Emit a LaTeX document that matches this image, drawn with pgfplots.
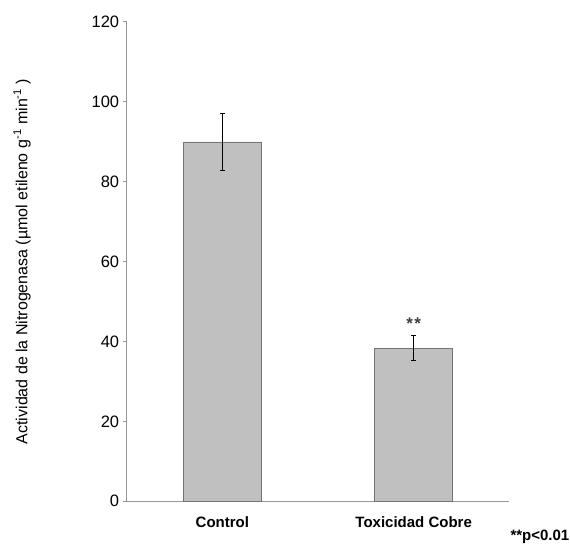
\documentclass[border=0pt]{standalone}
\usepackage{pgfplots}
\pgfplotsset{compat=1.18}
\usepackage{fontspec}
\setmainfont{Liberation Sans}
\definecolor{barfill}{RGB}{192,192,192}
\definecolor{baredge}{RGB}{115,115,115}
\definecolor{axisgray}{RGB}{150,150,150}
\begin{document}
\begin{tikzpicture}
\begin{axis}[
 scale only axis, width=382.6pt, height=479.6pt,
 at={(0,0)}, anchor=south west,
 xmin=0.5, xmax=2.5, ymin=0, ymax=120,
 axis x line*=bottom, axis y line*=left,
 axis line style={axisgray, line width=0.8pt},
 xtick={1,2}, xticklabels={Control, Toxicidad Cobre},
 xtick style={draw=none},
 ytick={0,20,...,120},
 ytick style={axisgray, line width=0.8pt},
 tick align=outside, major tick length=4pt,
 /pgf/number format/assume math mode=true,
 yticklabel style={font=\fontsize{16.5}{19}\selectfont},
 xticklabel style={font=\bfseries\fontsize{15}{18}\selectfont, yshift=-8pt},
 ylabel={Actividad de la Nitrogenasa (µmol etileno g\textsuperscript{-1} min\textsuperscript{-1} )},
 ylabel style={font=\fontsize{16}{19}\selectfont, at={(axis description cs:-0.2737,0.5)}, anchor=center},
]
\addplot[ybar, bar width=77.7pt, fill=barfill, draw=baredge, line width=0.8pt,
 error bars/.cd, y dir=both, y explicit,
 error bar style={black, line width=1pt},
 error mark options={rotate=90, mark size=2.5pt, black, line width=1pt}]
 coordinates {(1,89.9) +- (0,7.2) (2,38.3) +- (0,3.1)};
\node[font=\bfseries\fontsize{17}{20}\selectfont, anchor=base, text=black!75] at (axis cs:2,42.9) {*\kern1.5pt*};
\end{axis}
\node[font=\bfseries\fontsize{15}{18}\selectfont, anchor=base west] at (380.3pt,-38.7pt) {**p<0.01};
\pgfresetboundingbox
\path[use as bounding box] (-126.7pt,-44.7pt) rectangle (443.3pt,501.3pt);
\end{tikzpicture}
\end{document}
